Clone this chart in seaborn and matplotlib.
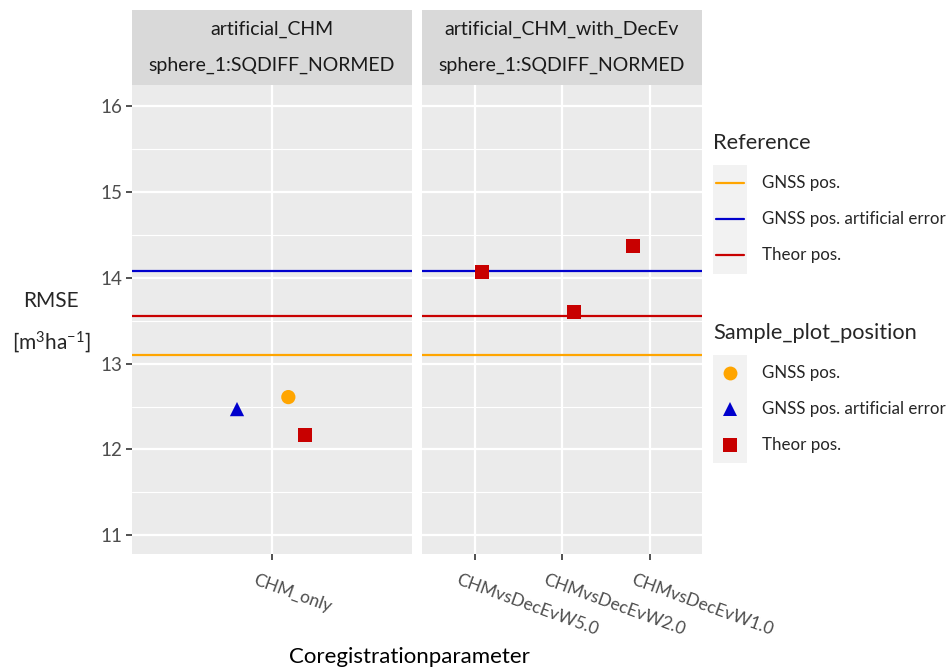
import numpy as np
import pandas as pd
import matplotlib
matplotlib.use("Agg")
import matplotlib.pyplot as plt
import seaborn as sns
from matplotlib.lines import Line2D
from matplotlib.patches import Rectangle
from matplotlib.ticker import MultipleLocator
from matplotlib.transforms import ScaledTranslation

# facets and x categories
panels = ["artificial_CHM", "artificial_CHM_with_DecEv"]
method = "sphere_1:SQDIFF_NORMED"
panel_params = {
    "artificial_CHM": ["CHM_only"],
    "artificial_CHM_with_DecEv": ["CHMvsDecEvW5.0", "CHMvsDecEvW2.0", "CHMvsDecEvW1.0"],
}

positions = ["GNSS pos.", "GNSS pos. artificial error", "Theor pos."]
colors = ["#FFA500", "#0000CD", "#C80000"]
markers = ["o", "^", "s"]

# reference RMSE (horizontal lines)
ref_rmse = [13.10, 14.08, 13.56]

# points (jittered)
pt_panel = ["artificial_CHM"] * 3 + ["artificial_CHM_with_DecEv"] * 3
pt_param = ["CHM_only", "CHM_only", "CHM_only",
            "CHMvsDecEvW5.0", "CHMvsDecEvW2.0", "CHMvsDecEvW1.0"]
pt_position = ["GNSS pos.", "GNSS pos. artificial error", "Theor pos.",
               "Theor pos.", "Theor pos.", "Theor pos."]
pt_rmse = [12.61, 12.47, 12.17, 14.07, 13.60, 14.37]
pt_jitter = [0.07, -0.15, 0.14, 0.09, 0.14, -0.19]

df = pd.DataFrame({"panel": pt_panel, "param": pt_param,
                   "Sample_plot_position": pt_position,
                   "RMSE": pt_rmse, "jitter": pt_jitter})

sns.set_theme(style="darkgrid")
plt.rcParams["font.family"] = ["Lato", "DejaVu Sans"]
plt.rcParams["mathtext.fontset"] = "custom"
plt.rcParams["mathtext.rm"] = "Lato"

W, H = 952, 672
fig = plt.figure(figsize=(W / 100, H / 100), dpi=100)
fig.patch.set_facecolor("white")


def fx(px):
    return px / W


def fy(py):
    return 1 - py / H


pal = dict(zip(positions, colors))
mk = dict(zip(positions, markers))

panel_left = [132, 422]
panel_w = 280
top, bottom = 85, 554
# x labels: top-left corner sits 15px left of / 18px below the tick
lab_shift = ScaledTranslation(-15 / 100, -18 / 100, fig.dpi_scale_trans)

axes = []
for i, p in enumerate(panels):
    ax = fig.add_axes([fx(panel_left[i]), fy(bottom), fx(panel_w), (bottom - top) / H])
    ax.set_facecolor("#EBEBEB")
    cats = panel_params[p]
    sub = df[df["panel"] == p].copy()
    sub["x"] = [cats.index(c) for c in sub["param"]] + sub["jitter"]

    for pos, val, col in zip(positions, ref_rmse, colors):
        ax.axhline(val, color=col, lw=1.6, zorder=2)

    sns.scatterplot(data=sub, x="x", y="RMSE", hue="Sample_plot_position",
                    style="Sample_plot_position", palette=pal, markers=mk,
                    hue_order=positions, style_order=positions,
                    s=105, linewidth=0, legend=False, ax=ax, zorder=3)

    ax.set_xlim(-0.6, len(cats) - 0.4)
    ax.set_ylim(10.78, 16.25)
    ax.set_xticks(range(len(cats)))
    ax.set_xticklabels([])
    for k, c in enumerate(cats):
        ax.text(k, 0, c, transform=ax.get_xaxis_transform() + lab_shift,
                rotation=-20, ha="left", va="top", rotation_mode="anchor",
                fontsize=12.5, color="#4D4D4D")
    ax.yaxis.set_major_locator(MultipleLocator(1))
    ax.yaxis.set_minor_locator(MultipleLocator(0.5))
    ax.grid(which="major", color="white", lw=1.6)
    ax.grid(which="minor", axis="y", color="white", lw=0.8)
    ax.set_xlabel("")
    ax.set_ylabel("")
    for s in ax.spines.values():
        s.set_visible(False)
    ax.tick_params(axis="x", bottom=True, length=4, width=1.2, color="#333333")
    if i == 0:
        ax.tick_params(axis="y", left=True, length=4, width=1.2, color="#333333",
                       labelsize=13.5, labelcolor="#4D4D4D", pad=3)
    else:
        ax.tick_params(axis="y", left=False, labelleft=False)
    ax.tick_params(axis="y", which="minor", left=False)

    # strip
    sax = fig.add_axes([fx(panel_left[i]), fy(top), fx(panel_w), (top - 10) / H])
    sax.set_facecolor("#D9D9D9")
    sax.set_xticks([])
    sax.set_yticks([])
    for s in sax.spines.values():
        s.set_visible(False)
    sax.text(0.5, 0.74, p, ha="center", va="center", fontsize=14, color="#1A1A1A")
    sax.text(0.5, 0.26, method, ha="center", va="center", fontsize=14, color="#1A1A1A")
    axes.append(ax)

# axis titles
fig.text(fx(409), fy(657), "Coregistrationparameter", ha="center", va="center",
         fontsize=16, color="black")
fig.text(fx(51), fy(301), "RMSE", ha="center", va="center", fontsize=15)
fig.text(fx(51), fy(342), r"[m$\mathregular{^3}$ha$\mathregular{^{-1}}$]",
         ha="center", va="center", fontsize=15)

# legends
lx = 713
fig.text(fx(lx), fy(143), "Reference", ha="left", va="center", fontsize=15.7)
fig.patches.append(Rectangle((fx(lx), fy(274)), fx(34), (274 - 165) / H,
                             transform=fig.transFigure, facecolor="#F2F2F2",
                             edgecolor="none", figure=fig))
for k, (pos, col) in enumerate(zip(positions, colors)):
    yy = 183 + 36 * k
    fig.lines.append(Line2D([fx(lx + 3), fx(lx + 31)], [fy(yy), fy(yy)], color=col,
                            lw=1.6, transform=fig.transFigure, figure=fig))
    fig.text(fx(762), fy(yy), pos, ha="left", va="center", fontsize=12.2)

fig.text(fx(lx), fy(333), "Sample_plot_position", ha="left", va="center", fontsize=15.7)
fig.patches.append(Rectangle((fx(lx), fy(463)), fx(34), (463 - 355) / H,
                             transform=fig.transFigure, facecolor="#F2F2F2",
                             edgecolor="none", figure=fig))
for k, (pos, col, m) in enumerate(zip(positions, colors, markers)):
    yy = 373 + 36 * k
    fig.lines.append(Line2D([fx(lx + 17)], [fy(yy)], color=col, marker=m, ms=10,
                            mew=0, ls="none", transform=fig.transFigure, figure=fig))
    fig.text(fx(762), fy(yy), pos, ha="left", va="center", fontsize=12.2)

fig.savefig("out.png", dpi=100)
